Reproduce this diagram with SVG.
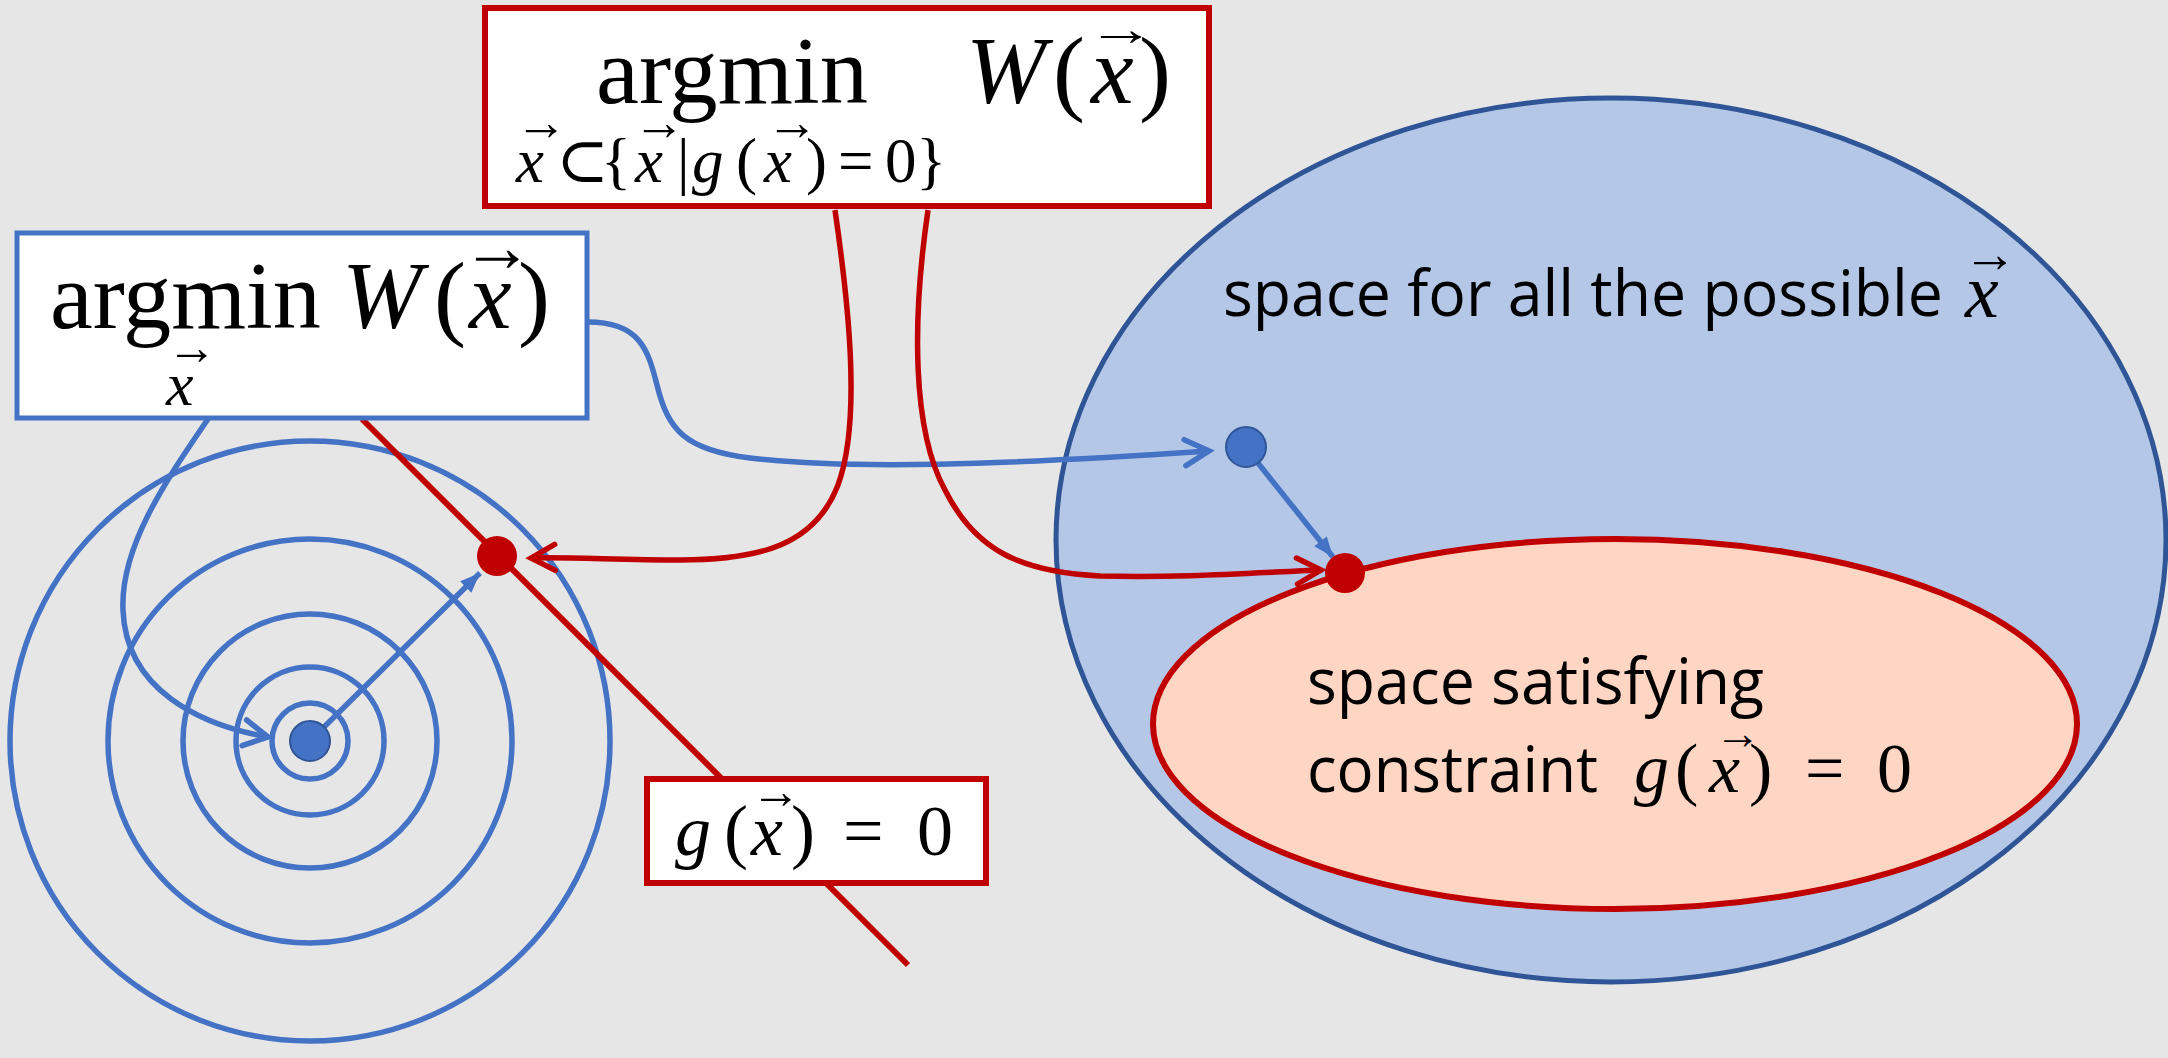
<svg xmlns="http://www.w3.org/2000/svg" width="2168" height="1058" viewBox="0 0 2168 1058">
<defs>
<style>
.circ{fill:none;stroke:#4472C4;stroke-width:5.5}
.bconn{fill:none;stroke:#4472C4;stroke-width:5.5}
.rconn{fill:none;stroke:#C00000;stroke-width:5.5}
.m{font-family:"Liberation Serif","DejaVu Serif",serif;fill:#000}
.i{font-style:italic}
.s{font-family:"Open Sans","Noto Sans","Liberation Sans",sans-serif;fill:#000;font-size:64px}
.arr{font-family:"Liberation Serif","DejaVu Serif",serif;fill:#000;text-anchor:middle}
</style>
<marker id="chevB" markerUnits="userSpaceOnUse" markerWidth="40" markerHeight="40" viewBox="-30 -20 40 40" refX="0" refY="0" orient="auto" overflow="visible">
<path d="M-24,-13 L0,0 L-24,13" fill="none" stroke="#4472C4" stroke-width="5.5" stroke-linecap="round"/>
</marker>
<marker id="chevR" markerUnits="userSpaceOnUse" markerWidth="40" markerHeight="40" viewBox="-30 -20 40 40" refX="0" refY="0" orient="auto" overflow="visible">
<path d="M-24,-13 L0,0 L-24,13" fill="none" stroke="#C00000" stroke-width="5.5" stroke-linecap="round"/>
</marker>
<marker id="triB" markerUnits="userSpaceOnUse" markerWidth="30" markerHeight="30" viewBox="-25 -15 30 30" refX="0" refY="0" orient="auto" overflow="visible">
<path d="M-20,-8 L0,0 L-20,8 Z" fill="#4472C4"/>
</marker>
</defs>
<rect x="0" y="0" width="2168" height="1058" fill="#E7E6E6"/>

<g id="node-all-space">
<ellipse cx="1611" cy="540" rx="555" ry="442" fill="#B4C7E7" stroke="#2F5597" stroke-width="5"/>
<text class="s" x="1223" y="316" textLength="720" lengthAdjust="spacingAndGlyphs">space for all the possible</text>
<text class="m i" x="1965" y="317" font-size="76">x</text>
<text class="arr" x="1990" y="272" font-size="54">→</text>
</g>

<g id="node-constraint-space">
<ellipse cx="1615" cy="724" rx="462" ry="185" fill="#FFD5C3" stroke="#C00000" stroke-width="6"/>
<text class="s" x="1307" y="704" textLength="457" lengthAdjust="spacingAndGlyphs">space satisfying</text>
<text class="s" x="1307" y="792" textLength="291" lengthAdjust="spacingAndGlyphs">constraint</text>
<text class="m" y="792" font-size="70"><tspan class="i" x="1634">g</tspan><tspan x="1675">(</tspan><tspan class="i" x="1709">x</tspan><tspan x="1749">)</tspan><tspan x="1805">=</tspan><tspan x="1877">0</tspan></text>
<text class="arr" x="1738" y="749" font-size="46">→</text>
</g>

<g id="node-contours">
<circle class="circ" cx="310" cy="741" r="300"/>
<circle class="circ" cx="310" cy="741" r="202"/>
<circle class="circ" cx="310" cy="741" r="127"/>
<circle class="circ" cx="310" cy="741" r="74"/>
<circle class="circ" cx="310" cy="741" r="38"/>
</g>

<g id="node-constraint-line">
<line x1="362" y1="419" x2="908" y2="965" stroke="#C00000" stroke-width="6"/>
</g>

<g id="connectors">
<path class="bconn" d="M208,419 C170,475 120,545 123,610 C126,690 200,725 268,737" marker-end="url(#chevB)"/>
<path class="bconn" d="M588,322 C640,322 648,350 657,385 C668,430 685,450 750,458 C850,470 1000,465 1209,451" marker-end="url(#chevB)"/>
<path class="rconn" d="M835,210 C848,300 862,420 838,485 C815,545 760,560 680,560 C620,560 570,557 531,558" marker-end="url(#chevR)"/>
<path class="rconn" d="M928,210 C912,320 912,430 945,490 C975,550 1020,572 1100,576 C1180,578 1250,573 1321,570" marker-end="url(#chevR)"/>
<line class="bconn" x1="324" y1="727" x2="480" y2="573" marker-end="url(#triB)"/>
<line class="bconn" x1="1258" y1="463" x2="1333" y2="557" marker-end="url(#triB)"/>
</g>

<g id="node-min-dot">
<circle cx="310" cy="741" r="20" fill="#4472C4" stroke="#2F5597" stroke-width="2"/>
</g>
<g id="node-constrained-min-dot">
<circle cx="497" cy="556" r="20" fill="#C00000"/>
</g>
<g id="node-space-min-dot">
<circle cx="1246" cy="447" r="20" fill="#4472C4" stroke="#2F5597" stroke-width="2"/>
</g>
<g id="node-space-constrained-dot">
<circle cx="1345" cy="573" r="20" fill="#C00000"/>
</g>

<g id="node-constrained-argmin">
<rect x="485" y="8" width="724" height="198" fill="#FFFFFF" stroke="#C00000" stroke-width="6"/>
<text class="m" x="596" y="103" font-size="96" textLength="272" lengthAdjust="spacingAndGlyphs">argmin</text>
<text class="m" y="103" font-size="96"><tspan class="i" x="966">W</tspan><tspan x="1053">(</tspan><tspan class="i" x="1091">x</tspan><tspan x="1139">)</tspan></text>
<text class="arr" x="1121" y="45" font-size="48" textLength="68" lengthAdjust="spacingAndGlyphs">→</text>
<text class="m" y="182" font-size="63"><tspan class="i" x="516">x</tspan><tspan x="556">⊂</tspan><tspan x="601">{</tspan><tspan class="i" x="635">x</tspan><tspan x="677">|</tspan><tspan class="i" x="692">g</tspan><tspan x="736">(</tspan><tspan class="i" x="764">x</tspan><tspan x="806">)</tspan><tspan x="838">=</tspan><tspan x="885">0</tspan><tspan x="916">}</tspan></text>
<text class="arr" x="541" y="140" font-size="52">→</text>
<text class="arr" x="659" y="140" font-size="52">→</text>
<text class="arr" x="792" y="140" font-size="52">→</text>
</g>

<g id="node-unconstrained-argmin">
<rect x="17" y="233" width="570" height="185" fill="#FFFFFF" stroke="#4472C4" stroke-width="5"/>
<text class="m" x="50" y="328" font-size="96" textLength="271" lengthAdjust="spacingAndGlyphs">argmin</text>
<text class="m" y="328" font-size="96"><tspan class="i" x="342">W</tspan><tspan x="434">(</tspan><tspan class="i" x="469">x</tspan><tspan x="518">)</tspan></text>
<text class="arr" x="497" y="271" font-size="72">→</text>
<text class="m i" x="166" y="405" font-size="62">x</text>
<text class="arr" x="192" y="364" font-size="50">→</text>
</g>

<g id="node-constraint-label">
<rect x="647" y="779" width="339" height="104" fill="#FFFFFF" stroke="#C00000" stroke-width="6"/>
<text class="m" y="855" font-size="72"><tspan class="i" x="675">g</tspan><tspan x="724">(</tspan><tspan class="i" x="751">x</tspan><tspan x="791">)</tspan><tspan x="843">=</tspan><tspan x="917">0</tspan></text>
<text class="arr" x="776" y="808" font-size="50">→</text>
</g>
</svg>
